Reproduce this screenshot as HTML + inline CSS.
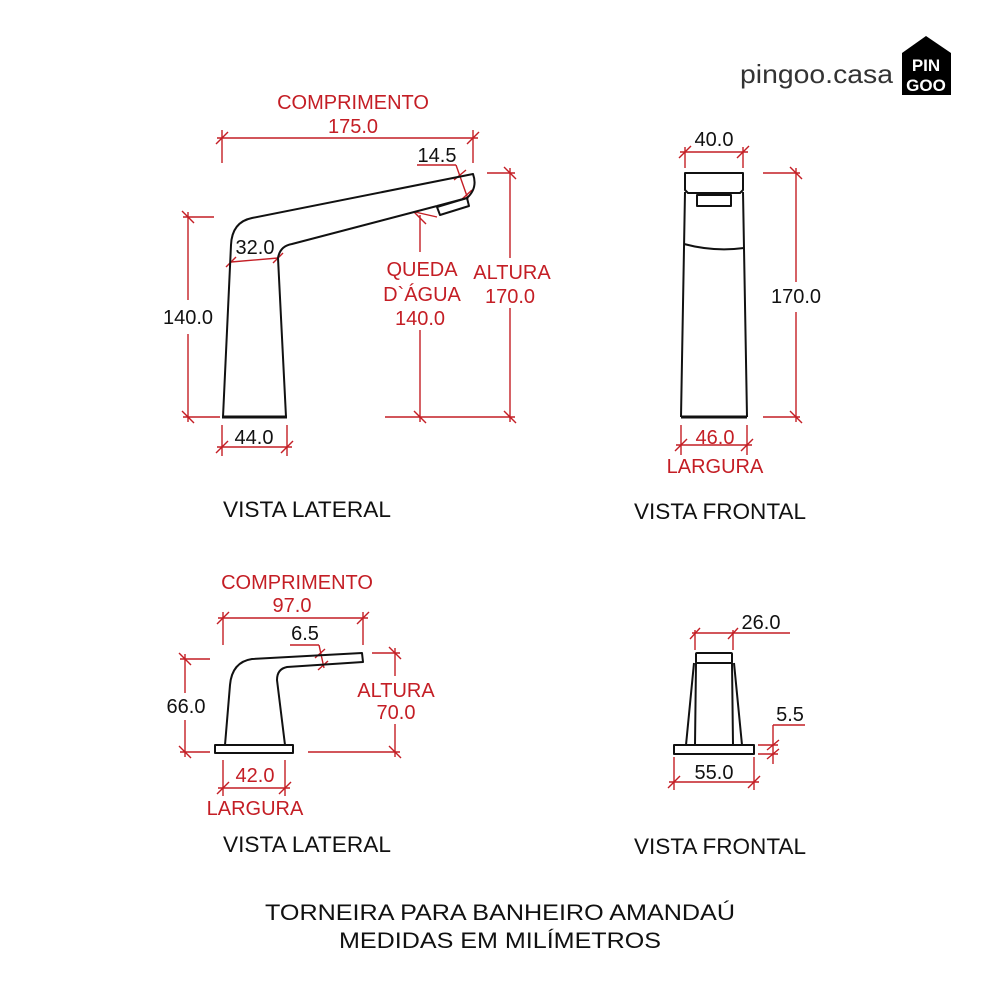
<!DOCTYPE html>
<html><head><meta charset="utf-8"><style>
html,body{margin:0;padding:0;background:#fff;}
svg{display:block;}
text{font-family:"Liberation Sans",Arial,sans-serif;}
</style></head><body>
<svg width="1000" height="1000" viewBox="0 0 1000 1000" xmlns="http://www.w3.org/2000/svg">
<rect width="1000" height="1000" fill="#fff"/>

<!-- Logo -->
<text x="740" y="83" font-size="26" fill="#333" textLength="153" lengthAdjust="spacingAndGlyphs">pingoo.casa</text>
<path d="M902 95 L902 53 L926 36 L951 53 L951 95 Z" fill="#000"/>
<text x="926" y="71" font-size="17" font-weight="bold" fill="#fff" text-anchor="middle">PIN</text>
<text x="926" y="91" font-size="17" font-weight="bold" fill="#fff" text-anchor="middle">GOO</text>

<g stroke="#c41e25" stroke-width="1.4" fill="none">
<line x1="217" y1="138" x2="478" y2="138"/>
<line x1="222" y1="130" x2="222" y2="163"/>
<line x1="473" y1="130" x2="473" y2="163"/>
<line x1="216" y1="144" x2="228" y2="132"/><line x1="467" y1="144" x2="479" y2="132"/>
<line x1="417" y1="165" x2="456" y2="165"/>
<line x1="456" y1="165" x2="468" y2="199"/>
<line x1="454" y1="180" x2="466" y2="170"/><line x1="461" y1="200" x2="472" y2="190"/>
<line x1="231" y1="262" x2="278" y2="258"/>
<line x1="226" y1="267" x2="236" y2="257"/><line x1="273" y1="263" x2="283" y2="253"/>
<line x1="188" y1="212" x2="188" y2="300"/><line x1="188" y1="334" x2="188" y2="422"/>
<line x1="183" y1="217" x2="214" y2="217"/><line x1="183" y1="417" x2="220" y2="417"/>
<line x1="182" y1="211" x2="194" y2="223"/><line x1="182" y1="411" x2="194" y2="423"/>
<line x1="420" y1="215" x2="420" y2="252"/><line x1="420" y1="330" x2="420" y2="422"/>
<line x1="415" y1="212" x2="437" y2="217"/>
<line x1="414" y1="212" x2="426" y2="224"/><line x1="414" y1="411" x2="426" y2="423"/>
<line x1="510" y1="168" x2="510" y2="258"/><line x1="510" y1="308" x2="510" y2="422"/>
<line x1="487" y1="173" x2="515" y2="173"/><line x1="385" y1="417" x2="515" y2="417"/>
<line x1="504" y1="167" x2="516" y2="179"/><line x1="504" y1="411" x2="516" y2="423"/>
<line x1="217" y1="447" x2="292" y2="447"/>
<line x1="222" y1="425" x2="222" y2="456"/><line x1="287" y1="425" x2="287" y2="456"/>
<line x1="216" y1="453" x2="228" y2="441"/><line x1="281" y1="453" x2="293" y2="441"/>

<line x1="680" y1="152" x2="748" y2="152"/>
<line x1="685" y1="147" x2="685" y2="168"/><line x1="743" y1="147" x2="743" y2="168"/>
<line x1="679" y1="158" x2="691" y2="146"/><line x1="737" y1="158" x2="749" y2="146"/>
<line x1="796" y1="168" x2="796" y2="282"/><line x1="796" y1="312" x2="796" y2="422"/>
<line x1="763" y1="173" x2="800" y2="173"/><line x1="763" y1="417" x2="800" y2="417"/>
<line x1="790" y1="167" x2="802" y2="179"/><line x1="790" y1="411" x2="802" y2="423"/>
<line x1="676" y1="445" x2="752" y2="445"/>
<line x1="681" y1="425" x2="681" y2="455"/><line x1="747" y1="425" x2="747" y2="455"/>
<line x1="675" y1="451" x2="687" y2="439"/><line x1="741" y1="451" x2="753" y2="439"/>

<line x1="218" y1="618" x2="368" y2="618"/>
<line x1="223" y1="612" x2="223" y2="645"/><line x1="363" y1="612" x2="363" y2="645"/>
<line x1="217" y1="624" x2="229" y2="612"/><line x1="357" y1="624" x2="369" y2="612"/>
<line x1="290" y1="645" x2="319" y2="645"/><line x1="319" y1="645" x2="324" y2="668"/>
<line x1="315" y1="658" x2="325" y2="649"/><line x1="318" y1="670" x2="328" y2="661"/>
<line x1="185" y1="654" x2="185" y2="693"/><line x1="185" y1="720" x2="185" y2="757"/>
<line x1="180" y1="659" x2="210" y2="659"/><line x1="180" y1="752" x2="210" y2="752"/>
<line x1="179" y1="653" x2="191" y2="665"/><line x1="179" y1="746" x2="191" y2="758"/>
<line x1="395" y1="648" x2="395" y2="676"/><line x1="395" y1="724" x2="395" y2="757"/>
<line x1="372" y1="653" x2="400" y2="653"/><line x1="308" y1="752" x2="400" y2="752"/>
<line x1="389" y1="647" x2="401" y2="659"/><line x1="389" y1="746" x2="401" y2="758"/>
<line x1="218" y1="788" x2="290" y2="788"/>
<line x1="223" y1="760" x2="223" y2="796"/><line x1="285" y1="760" x2="285" y2="796"/>
<line x1="217" y1="794" x2="229" y2="782"/><line x1="279" y1="794" x2="291" y2="782"/>

<line x1="692" y1="633" x2="790" y2="633"/>
<line x1="695" y1="630" x2="695" y2="650"/><line x1="733" y1="630" x2="733" y2="650"/>
<line x1="690" y1="639" x2="700" y2="628"/><line x1="728" y1="639" x2="738" y2="628"/>
<line x1="758" y1="745" x2="778" y2="745"/><line x1="758" y1="754" x2="778" y2="754"/>
<line x1="773" y1="725" x2="805" y2="725"/><line x1="773" y1="725" x2="773" y2="764"/>
<line x1="767" y1="750" x2="779" y2="740"/><line x1="767" y1="759" x2="779" y2="749"/>
<line x1="669" y1="782" x2="759" y2="782"/>
<line x1="674" y1="757" x2="674" y2="790"/><line x1="754" y1="757" x2="754" y2="790"/>
<line x1="668" y1="788" x2="680" y2="776"/><line x1="748" y1="788" x2="760" y2="776"/>
</g>

<g stroke="#111" stroke-width="2" fill="none" stroke-linejoin="round">
<path d="M223 417 L231 245 Q232 222 252 218 L473 174 Q478 188 467 198 L437 206"/>
<path d="M286 417 L278 258 Q280 246 292 244 L437 206"/>
<path d="M437 207 L467 198 L469 206 L440 215 Z"/>
<line x1="222" y1="417" x2="287" y2="417" stroke-width="3"/>
<path d="M685 173 L743 173 L743 190 L740 193 L688 193 L685 190 Z"/>
<rect x="697" y="195" width="34" height="11"/>
<path d="M685 192 L681 417 M743 192 L747 417"/>
<path d="M684 244 Q714 252 744 248"/>
<line x1="681" y1="417" x2="747" y2="417" stroke-width="3"/>
<rect x="215" y="745" width="78" height="8"/>
<path d="M225 745 L230 685 Q232 662 252 659 L362 653 L363 662 L287 667 Q277 669 277 680 L285 745"/>
<rect x="696" y="653" width="36" height="10" rx="1"/>
<path d="M694 663 L686 745 M696 663 L695 745 M732 663 L733 745 M734 663 L742 745"/>
<rect x="674" y="745" width="80" height="9"/>
</g>

<g fill="#c41e25" font-size="20" text-anchor="middle">
<text x="353" y="109">COMPRIMENTO</text>
<text x="353" y="133">175.0</text>
<text x="422" y="276">QUEDA</text>
<text x="422" y="301">D`ÁGUA</text>
<text x="420" y="325">140.0</text>
<text x="512" y="279">ALTURA</text>
<text x="510" y="303">170.0</text>
<text x="715" y="473">LARGURA</text>
<text x="715" y="444">46.0</text>
<text x="297" y="589">COMPRIMENTO</text>
<text x="292" y="612">97.0</text>
<text x="396" y="697">ALTURA</text>
<text x="396" y="719">70.0</text>
<text x="255" y="782">42.0</text>
<text x="255" y="815">LARGURA</text>
</g>
<g fill="#111" font-size="20" text-anchor="middle">
<text x="437" y="162">14.5</text>
<text x="255" y="254">32.0</text>
<text x="188" y="324">140.0</text>
<text x="254" y="444">44.0</text>
<text x="714" y="146">40.0</text>
<text x="796" y="303">170.0</text>
<text x="305" y="640">6.5</text>
<text x="186" y="713">66.0</text>
<text x="761" y="629">26.0</text>
<text x="790" y="721">5.5</text>
<text x="714" y="779">55.0</text>
</g>
<g fill="#111" font-size="22" text-anchor="middle">
<text x="307" y="517" textLength="168" lengthAdjust="spacingAndGlyphs">VISTA LATERAL</text>
<text x="720" y="519" textLength="172" lengthAdjust="spacingAndGlyphs">VISTA FRONTAL</text>
<text x="307" y="852" textLength="168" lengthAdjust="spacingAndGlyphs">VISTA LATERAL</text>
<text x="720" y="854" textLength="172" lengthAdjust="spacingAndGlyphs">VISTA FRONTAL</text>
<text x="500" y="920" textLength="470" lengthAdjust="spacingAndGlyphs">TORNEIRA PARA BANHEIRO AMANDAÚ</text>
<text x="500" y="948" textLength="322" lengthAdjust="spacingAndGlyphs">MEDIDAS EM MILÍMETROS</text>
</g>
</svg>
</body></html>
